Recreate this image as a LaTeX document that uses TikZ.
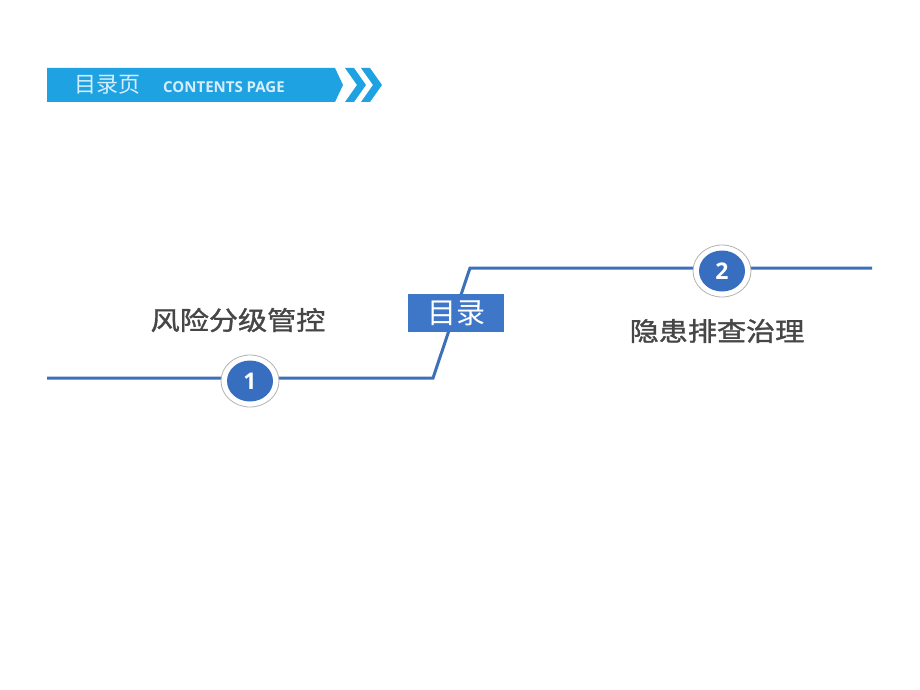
\documentclass[tikz,border=0pt]{standalone}
\usepackage{fontspec}
\usepackage{xcolor}
\usetikzlibrary{shapes.geometric}
\setmainfont{Open Sans}
\newfontfamily\cjk{Noto Sans CJK SC}
\newfontfamily\cjkb[FakeBold=1.2]{Noto Sans CJK SC}
\newfontfamily\numfont{Open Sans}
\definecolor{hdrblue}{RGB}{30,162,226}
\definecolor{lineblue}{RGB}{60,112,185}
\definecolor{dotblue}{RGB}{56,110,192}
\definecolor{boxblue}{RGB}{62,118,200}
\definecolor{txtgray}{RGB}{70,70,70}
\definecolor{paleblue}{RGB}{214,238,252}

\begin{document}
\begin{tikzpicture}[x=1pt, y=-1pt,
  numring/.style={ellipse, draw=gray!60, line width=0.8pt, fill=white, minimum width=58pt, minimum height=52pt, inner sep=0pt},
  numdot/.style={ellipse, fill=dotblue, text=white, minimum width=46pt, minimum height=41pt, inner sep=0pt, font=\numfont\bfseries\fontsize{23}{23}\selectfont},
  topic/.style={text=txtgray, inner sep=0pt, xscale=1.12, font=\cjkb\fontsize{26}{26}\selectfont}]

\useasboundingbox[fill=white] (0,0) rectangle (920,690);

% Header bar with chevrons
\fill[hdrblue] (47,68) -- (335,68) -- (343,85) -- (335,102) -- (47,102) -- cycle;
\foreach \s in {0,16}
\fill[hdrblue] (345+\s,68) -- (354+\s,68) -- (366+\s,85) -- (354+\s,102) -- (345+\s,102) -- (357+\s,85) -- cycle;
\node[anchor=west, inner sep=0pt, text=paleblue, font=\cjk\fontsize{22}{22}\selectfont] (hdrcn) at (74,85) {目录页};
\node[anchor=west, inner sep=0pt, text=paleblue, font=\bfseries\fontsize{15}{15}\selectfont] (hdren) at (163,87) {CONTENTS PAGE};

% Timeline
\coordinate (lstart) at (47,378);
\coordinate (bendA) at (433,378);
\coordinate (bendB) at (470,268);
\coordinate (lend) at (872,268);
\draw[lineblue, line width=3pt] (lstart) -- (bendA) -- (bendB) -- (lend);

% Title box
\node[fill=boxblue, text=white, minimum width=96pt, minimum height=38pt, inner sep=0pt, font=\cjk\fontsize{29}{29}\selectfont] (mulu) at (456,313) {目录};

% Numbered circles
\node[numring] (ring1) at (250,381) {};
\node[numdot] (num1) at (ring1) {1};
\node[numring] (ring2) at (722,271) {};
\node[numdot] (num2) at (ring2) {2};

% Labels
\node[topic] (topic1) at (238,320) {风险分级管控};
\node[topic] (topic2) at (717,331) {隐患排查治理};

\end{tikzpicture}
\end{document}
